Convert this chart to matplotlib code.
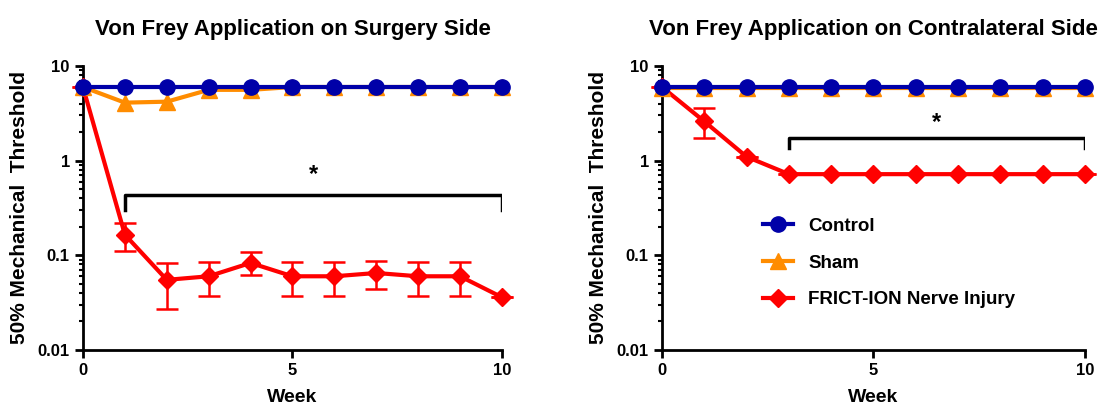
import matplotlib.pyplot as plt
from matplotlib.lines import Line2D
from matplotlib.ticker import NullFormatter

plt.rcParams['font.family'] = ['Liberation Sans', 'DejaVu Sans']
plt.rcParams['font.weight'] = 'bold'

weeks = list(range(11))

# surgery side
control_l = [6] * 11
sham_l = [6, 4.1, 4.2, 5.6, 5.6, 6, 6, 6, 6, 6, 6]
injury_l = [6, 0.165, 0.055, 0.06, 0.083, 0.06, 0.06, 0.065, 0.06, 0.06, 0.036]
injury_l_lo = [6, 0.11, 0.027, 0.037, 0.062, 0.037, 0.037, 0.044, 0.037, 0.037, 0.036]
injury_l_hi = [6, 0.22, 0.082, 0.085, 0.108, 0.085, 0.085, 0.088, 0.085, 0.085, 0.036]

# contralateral side
control_r = [6] * 11
sham_r = [5.8] * 11
injury_r = [6, 2.6, 1.1, 0.72, 0.72, 0.72, 0.72, 0.72, 0.72, 0.72, 0.72]
injury_r_lo = [6, 1.75, 1.1, 0.72, 0.72, 0.72, 0.72, 0.72, 0.72, 0.72, 0.72]
injury_r_hi = [6, 3.6, 1.1, 0.72, 0.72, 0.72, 0.72, 0.72, 0.72, 0.72, 0.72]

titles = ['Von Frey Application on Surgery Side',
          'Von Frey Application on Contralateral Side']
groups = ['Control', 'Sham', 'FRICT-ION Nerve Injury']

BLUE = '#0000A8'
ORANGE = '#FF8C00'
RED = '#FF0000'

fig = plt.figure(figsize=(11.02, 4.05), dpi=100)
ax1 = fig.add_axes([0.0753, 0.136, 0.3802, 0.701])
ax2 = fig.add_axes([0.6007, 0.136, 0.3838, 0.701])


def draw(ax, control, sham, injury, lo, hi, title, bracket, star_y):
    err = [[i - l for i, l in zip(injury, lo)], [h - i for i, h in zip(injury, hi)]]
    ax.errorbar(weeks, injury, yerr=err, color=RED, lw=3, marker='D', ms=9,
                capsize=8, capthick=1.8, elinewidth=1.8, clip_on=False, zorder=3)
    ax.plot(weeks, sham, color=ORANGE, lw=3, marker='^', ms=11, clip_on=False,
            zorder=4)
    ax.plot(weeks, control, color=BLUE, lw=3, marker='o', ms=11, clip_on=False,
            zorder=5)
    ax.set_yscale('log')
    ax.set_ylim(0.01, 10)
    ax.set_xlim(0, 10)
    ax.set_xticks([0, 5, 10])
    ax.set_yticks([0.01, 0.1, 1, 10])
    ax.set_yticklabels(['0.01', '0.1', '1', '10'])
    ax.yaxis.set_minor_formatter(NullFormatter())
    ax.tick_params(axis='both', labelsize=12, width=2, length=6)
    ax.tick_params(axis='y', which='minor', width=1.5, length=3)
    for s in ['top', 'right']:
        ax.spines[s].set_visible(False)
    for s in ['left', 'bottom']:
        ax.spines[s].set_linewidth(2)
    ax.set_xlabel('Week', fontsize=14, fontweight='bold', labelpad=8)
    ax.set_ylabel('50% Mechanical  Threshold', fontsize=15, fontweight='bold',
                  labelpad=6)
    ax.set_title(title, fontsize=16, fontweight='bold', pad=22)
    x0, x1, ybar, ytick = bracket
    ax.plot([x0, x0, x1, x1], [ytick, ybar, ybar, ytick], color='black', lw=2.5)
    ax.text((x0 + x1) / 2, star_y, '*', ha='center', va='center', fontsize=17,
            fontweight='bold')


draw(ax1, control_l, sham_l, injury_l, injury_l_lo, injury_l_hi, titles[0],
     (1, 10, 0.43, 0.3), 0.72)
draw(ax2, control_r, sham_r, injury_r, injury_r_lo, injury_r_hi, titles[1],
     (3, 10, 1.74, 1.36), 2.5)

handles = [Line2D([], [], color=BLUE, lw=3, marker='o', ms=11),
           Line2D([], [], color=ORANGE, lw=3, marker='^', ms=11),
           Line2D([], [], color=RED, lw=3, marker='D', ms=9)]
ax2.legend(handles, groups, loc='upper left', bbox_to_anchor=(0.2, 0.525),
           frameon=False, prop={'size': 13.5, 'weight': 'bold'},
           labelspacing=1.05, handlelength=1.6)

fig.savefig('out.png', dpi=100)
